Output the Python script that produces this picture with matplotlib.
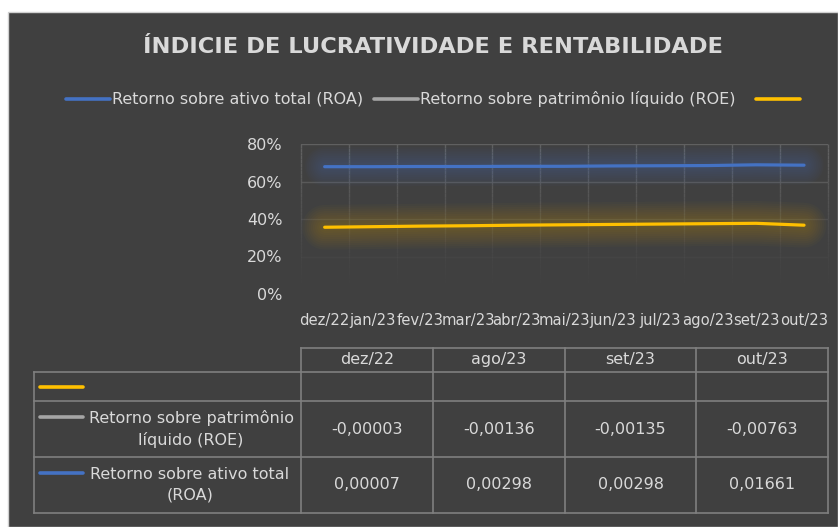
import numpy as np
import matplotlib
matplotlib.use("Agg")
import matplotlib.pyplot as plt
from matplotlib.patches import Rectangle
from matplotlib.lines import Line2D

plt.rcParams['font.family'] = ['DejaVu Sans Condensed', 'DejaVu Sans']

# ---------------- data ----------------
months = ['dez/22', 'jan/23', 'fev/23', 'mar/23', 'abr/23', 'mai/23',
          'jun/23', 'jul/23', 'ago/23', 'set/23', 'out/23']
roa = [67.9, 67.9, 68.0, 68.0, 68.1, 68.1, 68.3, 68.4, 68.5, 68.9, 68.7]
third = [35.6, 35.9, 36.2, 36.4, 36.7, 36.9, 37.1, 37.3, 37.5, 37.7, 36.7]
y_ticks = [0, 20, 40, 60, 80]

table_cols = ['dez/22', 'ago/23', 'set/23', 'out/23']
roe_tab = [-0.00003, -0.00136, -0.00135, -0.00763]
roa_tab = [0.00007, 0.00298, 0.00298, 0.01661]

title = 'ÍNDICIE DE LUCRATIVIDADE E RENTABILIDADE'
lbl_roa = 'Retorno sobre ativo total (ROA)'
lbl_roe = 'Retorno sobre patrimônio líquido (ROE)'
tbl_roe = 'Retorno sobre patrimônio\nlíquido (ROE)'
tbl_roa = 'Retorno sobre ativo total\n(ROA)'

# ---------------- style ----------------
W, H = 838, 527
BG = '#404040'
TXT = '#d9d9d9'
BORDER = '#7f7f7f'
GRID = '#606060'
BLUE = '#4472c4'
GRAY = '#a5a5a5'
YEL = '#ffc000'
FS = 11.5

fig = plt.figure(figsize=(W / 100, H / 100), dpi=100, facecolor='white')


def fx(x):
    return x / W


def fy(y):
    return 1 - y / H


bgrect = Rectangle((fx(8), 0), 1 - fx(8), fy(12), transform=fig.transFigure,
                   facecolor=BG, edgecolor='#d0d0d0', lw=1, zorder=-10)
fig.patches.append(bgrect)

# title
fig.text(fx(433), fy(47), title, ha='center', va='center', color=TXT, fontsize=16.2,
         fontweight='bold')

# legend (manual)
leg_y = fy(99)


def swatch(x0, x1, y, color):
    fig.add_artist(Line2D([fx(x0), fx(x1)], [y, y], transform=fig.transFigure,
                          color=color, lw=2.6, solid_capstyle='round'))


swatch(66, 110, leg_y, BLUE)
fig.text(fx(112), leg_y, lbl_roa, ha='left', va='center', color=TXT, fontsize=FS)
swatch(374, 418, leg_y, GRAY)
fig.text(fx(420), leg_y, lbl_roe, ha='left', va='center', color=TXT, fontsize=FS)
swatch(756, 800, leg_y, YEL)

# ---------------- main axes ----------------
left, right, top, bottom = 300.7, 828, 144, 294
ax = fig.add_axes([fx(left), fy(bottom), fx(right - left), fy(top) - fy(bottom)])
ax.set_facecolor('none')
x = np.arange(len(months))
ax.set_xlim(-0.5, len(months) - 0.5)
ax.set_ylim(0, 80)
for s in ax.spines.values():
    s.set_visible(False)


def galpha(v):
    return float(np.clip(v / 70.0, 0, 1)) ** 1.5


# gradient gridlines
levels = np.linspace(0, 80, 41)
for xb in np.arange(-0.5, len(months), 1.0):
    for a, b in zip(levels[:-1], levels[1:]):
        ax.plot([xb, xb], [a, b], color=GRID, lw=1, alpha=galpha((a + b) / 2),
                solid_capstyle='butt', zorder=1, clip_on=False)
for yv in y_ticks:
    ax.axhline(yv, color=GRID, lw=1, alpha=galpha(yv) if yv < 80 else 1, zorder=1)


def glow_line(vals, color, width=2.3, glow=14, n=10, a=0.03):
    for i in range(n):
        w = width + glow * (i + 1) / n * 2
        ax.plot(x, vals, color=color, lw=w, alpha=a, solid_capstyle='round', zorder=2)
    ax.plot(x, vals, color=color, lw=width, solid_capstyle='round', zorder=3)


glow_line(roa, BLUE, glow=13, a=0.032)
glow_line(third, YEL, glow=15, a=0.024)

ax.set_yticks(y_ticks)
ax.set_yticklabels([f'{v}%' for v in y_ticks])
ax.set_xticks(x)
ax.set_xticklabels(months)
ax.tick_params(axis='y', length=0, colors=TXT, labelsize=FS, pad=13)
ax.tick_params(axis='x', length=0, colors=TXT, labelsize=10.6, pad=13.5)

# ---------------- data table ----------------
col_x = [300.7, 433, 565, 696, 828]
row_y = [347.7, 371.7, 401.3, 457, 512.7]
tbl_left = 34


def hline(x0, x1, y):
    fig.add_artist(Line2D([fx(x0), fx(x1)], [fy(y), fy(y)], transform=fig.transFigure,
                          color=BORDER, lw=1.2))


def vline(x, y0, y1):
    fig.add_artist(Line2D([fx(x), fx(x)], [fy(y0), fy(y1)], transform=fig.transFigure,
                          color=BORDER, lw=1.2))


hline(col_x[0], col_x[-1], row_y[0])
for yy in row_y[1:]:
    hline(tbl_left, col_x[-1], yy)
vline(tbl_left, row_y[1], row_y[-1])
for xx in col_x:
    vline(xx, row_y[0], row_y[-1])

for i, c in enumerate(table_cols):
    fig.text(fx((col_x[i] + col_x[i + 1]) / 2), fy((row_y[0] + row_y[1]) / 2), c,
             ha='center', va='center', color=TXT, fontsize=FS)


def fmt(v):
    return f'{v:.5f}'.replace('.', ',')


for r, vals in ((3, roe_tab), (4, roa_tab)):
    yc = (row_y[r - 1] + row_y[r]) / 2
    for i, v in enumerate(vals):
        fig.text(fx((col_x[i] + col_x[i + 1]) / 2), fy(yc), fmt(v),
                 ha='center', va='center', color=TXT, fontsize=FS)

# row headers
swatch(40, 83, fy(386.5), YEL)
swatch(40, 83, fy(417), GRAY)
fig.text(fx(191), fy(429), tbl_roe, ha='center', va='center', color=TXT, fontsize=FS,
         linespacing=1.45)
swatch(40, 83, fy(473), BLUE)
fig.text(fx(190), fy(485), tbl_roa, ha='center', va='center', color=TXT, fontsize=FS,
         linespacing=1.45)

fig.savefig('out.png', dpi=100, facecolor='white')
